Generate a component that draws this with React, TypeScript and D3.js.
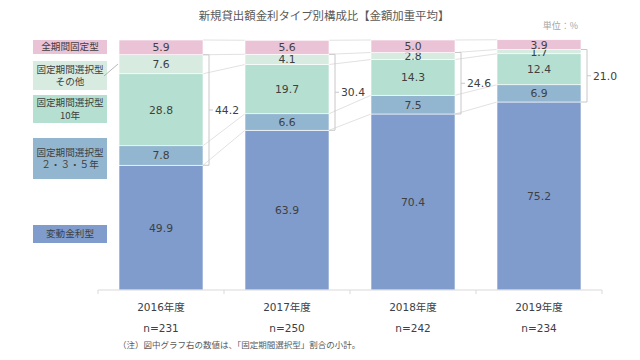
import * as React from 'react'
import * as d3 from 'd3'

const WIDTH = 640
const HEIGHT = 360
const FONT = '"DejaVu Sans", "Noto Sans CJK JP", sans-serif'
const JP_FONT = '"Noto Sans CJK JP", sans-serif'

const years = ['2016年度', '2017年度', '2018年度', '2019年度']
const sampleSizes = [231, 250, 242, 234]
const variableRate = [49.9, 63.9, 70.4, 75.2]
const fixed235 = [7.8, 6.6, 7.5, 6.9]
const fixed10 = [28.8, 19.7, 14.3, 12.4]
const fixedOther = [7.6, 4.1, 2.8, 1.7]
const fullFixed = [5.9, 5.6, 5.0, 3.9]
const selectSubtotal = [44.2, 30.4, 24.6, 21.0]

// bottom -> top
const seriesKeys = ['variable', 'f235', 'f10', 'fOther', 'full']
const seriesColors: Record<string, string> = {
  variable: '#7f9ccc',
  f235: '#93b6d0',
  f10: '#b5e0d1',
  fOther: '#d7ebe1',
  full: '#ebc3d6'
}
const legendItems = [
  { key: 'full', lines: ['全期間固定型'], y0: 40, y1: 54 },
  { key: 'fOther', lines: ['固定期間選択型', 'その他'], y0: 61, y1: 90 },
  { key: 'f10', lines: ['固定期間選択型', '10年'], y0: 95, y1: 123 },
  { key: 'f235', lines: ['固定期間選択型', '２・３・５年'], y0: 138, y1: 179 },
  { key: 'variable', lines: ['変動金利型'], y0: 225, y1: 243 }
]

const rows = years.map((y, i) => ({
  year: y,
  variable: variableRate[i],
  f235: fixed235[i],
  f10: fixed10[i],
  fOther: fixedOther[i],
  full: fullFixed[i]
}))

export default function App() {
  const x = d3
    .scaleBand<string>()
    .domain(years)
    .range([98, 602])
    .paddingInner(1 / 3)
    .paddingOuter(1 / 6)
  const y = d3.scaleLinear().domain([0, 100]).range([290, 40])
  const stack = d3.stack<any>().keys(seriesKeys)(rows)
  const bw = x.bandwidth()
  const step = x.step()

  // series lines between bars at every boundary
  const seriesLines: JSX.Element[] = []
  stack.forEach(layer => {
    for (let i = 0; i < years.length - 1; i++) {
      seriesLines.push(
        <line
          key={layer.key + i}
          x1={x(years[i])! + bw}
          x2={x(years[i + 1])!}
          y1={y(layer[i][1])}
          y2={y(layer[i + 1][1])}
          stroke="#d9d9d9"
          strokeWidth={0.8}
        />
      )
    }
  })

  const f235Layer = stack[1]
  const otherLayer = stack[3]

  return (
    <svg width={WIDTH} height={HEIGHT} style={{ position: 'absolute', left: 0, top: 0, background: '#fff' }}>
      <text x={324} y={20} textAnchor="middle" fontSize={11.4} fill="#595959" fontFamily={JP_FONT}>
        新規貸出額金利タイプ別構成比【金額加重平均】
      </text>
      <text x={578} y={29} textAnchor="end" fontSize={9} fill="#a6a6a6" fontFamily={JP_FONT}>
        単位：%
      </text>

      {seriesLines}

      {stack.map(layer => (
        <g key={layer.key}>
          {layer.map((d, i) => (
            <rect
              key={i}
              x={x(years[i])}
              y={y(d[1])}
              width={bw}
              height={y(d[0]) - y(d[1])}
              fill={seriesColors[layer.key]}
              stroke="#ffffff"
              strokeWidth={0.6}
            />
          ))}
          {layer.map((d, i) => (
            <text
              key={'t' + i}
              x={x(years[i])! + bw / 2}
              y={(y(d[0]) + y(d[1])) / 2}
              dy="0.36em"
              textAnchor="middle"
              fontSize={10.8}
              fill="#404040"
              fontFamily={FONT}
            >
              {(d[1] - d[0]).toFixed(1)}
            </text>
          ))}
        </g>
      ))}

      {/* subtotal brackets */}
      {selectSubtotal.map((v, i) => {
        const bx = x(years[i])! + bw
        const top = y(otherLayer[i][1])
        const bot = y(f235Layer[i][0])
        const vx = bx + 6
        const mid = (top + bot) / 2
        return (
          <g key={'b' + i} stroke="#c8c8c8" strokeWidth={1} fill="none">
            <path d={`M${bx},${top}H${vx}V${bot}H${bx}`} />
            <line x1={vx} x2={vx + 4} y1={mid} y2={mid} />
            <text
              x={vx + 6}
              y={mid}
              dy="0.36em"
              fontSize={10.8}
              fill="#404040"
              stroke="none"
              fontFamily={FONT}
            >
              {v.toFixed(1)}
            </text>
          </g>
        )
      })}

      {/* axis */}
      <line x1={98} x2={602} y1={290} y2={290} stroke="#d9d9d9" />
      {d3.range(years.length + 1).map(i => (
        <line key={'k' + i} x1={98 + i * step} x2={98 + i * step} y1={290} y2={294} stroke="#d9d9d9" />
      ))}
      {years.map((yr, i) => (
        <g key={yr} fontFamily={FONT} fill="#404040" fontSize={10.5} textAnchor="middle">
          <text x={x(yr)! + bw / 2} y={311}>{yr}</text>
          <text x={x(yr)! + bw / 2} y={332}>{'n=' + sampleSizes[i]}</text>
        </g>
      ))}

      {/* legend */}
      {legendItems.map(item => {
        const cy = (item.y0 + item.y1) / 2
        const lh = 12.5
        return (
          <g key={item.key}>
            <rect x={33} y={item.y0} width={74} height={item.y1 - item.y0} fill={seriesColors[item.key]} />
            {item.lines.map((ln, j) => (
              <text
                key={j}
                x={70}
                y={cy + (j - (item.lines.length - 1) / 2) * lh}
                dy="0.36em"
                textAnchor="middle"
                fontSize={9.6}
                fill="#404040"
                fontFamily={JP_FONT}
              >
                {ln}
              </text>
            ))}
          </g>
        )
      })}
      <line x1={104} y1={76} x2={118} y2={64} stroke="#a6a6a6" strokeWidth={0.8} />

      <text x={118} y={348} fontSize={8.5} fill="#595959" fontFamily={JP_FONT}>
        （注）図中グラフ右の数値は、「固定期間選択型」割合の小計。
      </text>
    </svg>
  )
}
